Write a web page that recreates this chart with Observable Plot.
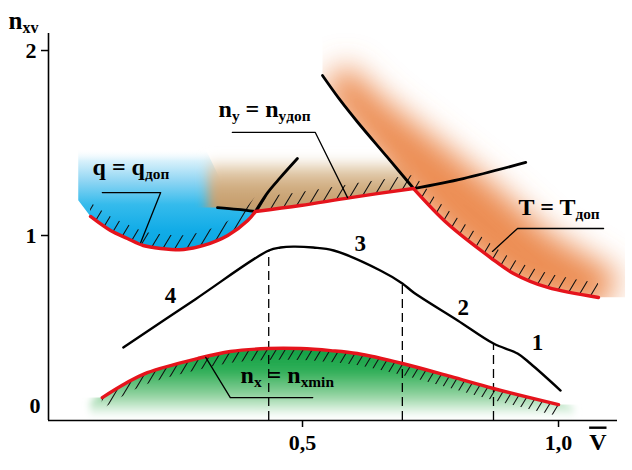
<!DOCTYPE html>
<html><head><meta charset="utf-8">
<script src="https://cdn.jsdelivr.net/npm/d3@7"></script>
<script src="https://cdn.jsdelivr.net/npm/@observablehq/plot@0.6"></script>
<style>body{margin:0;background:#fff}#dbg{position:absolute;left:60px;top:40px;font:11px monospace;color:#c00;white-space:pre}</style>
</head><body><div id="chart"></div><div id="dbg"></div>
<script>
window.onerror = (m, s, l) => { document.getElementById("dbg").textContent += "ERR " + m + " @" + l + "\n"; };
// ---------- data (x = V̄, y = n) ----------
const xDomain = [0.0039, 1.1152];
const yDomain = [0, 2.092];
const xTicks = [0.5, 1.0];
const yTicks = [1, 2];

// main black curve (segments 4-3-2-1)
const mainCurve = [[0.150,0.395],[0.291,0.656],[0.434,0.919],[0.457,0.935],[0.482,0.940],[0.521,0.935],[0.561,0.919],[0.652,0.811],[0.695,0.741],[0.717,0.692],[0.803,0.541],[0.873,0.416],[0.920,0.362],[0.945,0.308],[1.004,0.162]];
const segNames = ["4", "3", "2", "1"];
const segX = [0.242, 0.613, 0.814, 0.959];
const segY = [0.676, 0.957, 0.611, 0.422];
const dashX = [0.434, 0.695, 0.873];
const dashTop = [0.919, 0.741, 0.416];

// n_x = n_xmin boundary
const nxRed = [[0.109,0.124],[0.154,0.200],[0.197,0.259],[0.295,0.335],[0.359,0.373],[0.432,0.389],[0.496,0.389],[0.555,0.378],[0.607,0.362],[0.695,0.308],[0.789,0.238],[0.873,0.173],[1.000,0.086]];
// q = q_доп boundary and its continuation
const qRed = [[0.086,1.103],[0.125,1.027],[0.158,0.984],[0.189,0.946],[0.223,0.930],[0.268,0.924],[0.307,0.946],[0.354,1.000],[0.393,1.081],[0.408,1.130]];
const qBlack = [[0.408,1.130],[0.432,1.232],[0.457,1.314],[0.490,1.416]];
// n_y = n_yдоп boundary
const nyLeft = [[0.334,1.151],[0.373,1.141],[0.408,1.130]];
const nyRed = [[0.408,1.130],[0.496,1.162],[0.594,1.205],[0.717,1.254]];
const nyRight = [[0.717,1.254],[0.814,1.308],[0.936,1.395]];
// T = T_доп boundary
const tBlack = [[0.539,1.865],[0.574,1.730],[0.607,1.615],[0.666,1.422],[0.717,1.254]];
const tRed = [[0.717,1.254],[0.783,1.065],[0.867,0.881],[0.912,0.795],[0.979,0.719],[1.078,0.665]];

// shaded regions (estimated extents)
const blueEdgeL = [[0.062,1.47],[0.062,1.19]];
const blueEdgeR = [[0.42,1.16],[0.34,1.30],[0.31,1.47]];
const tanRegion = [[0.315,1.10],[0.50,1.10],[0.60,1.15],[0.73,1.21],[0.70,1.42],[0.315,1.42]];
const orangeOuter = [[1.121,0.784],[1.063,0.881],[0.980,1.016],[0.887,1.243],[0.789,1.459],[0.662,1.730],[0.584,1.930]];
const greenEnds = [[0.085,0.10],[1.03,0.07],[1.03,0.025],[0.085,0.025]];
const nyExtLeft = [[0.2,1.151],[0.334,1.151]];
const tExtRight = [[1.078,0.665],[1.13,0.665]];
const nxExtLeft = [[0.03,0.124],[0.109,0.124]];
const nxExtRight = [[1.0,0.086],[1.09,0.086]];

// leader lines
const leadQ = [[0.109,1.232],[0.223,1.232],[0.184,0.962]];
const leadNy = [[0.363,1.557],[0.525,1.557],[0.588,1.205]];
const leadT = [[1.088,1.038],[0.920,1.038],[0.871,0.914]];
const leadNx = [[0.520,0.124],[0.359,0.124],[0.311,0.341]];

// region labels ({...} = subscript)
const labText = ["q = q{доп}", "n{y} = n{yдоп}", "T = T{доп}", "n{x} = n{xmin}"];
const labX = [0.090, 0.336, 0.922, 0.379];
const labY = [1.368, 1.681, 1.151, 0.243];

// ---------- derived shapes ----------
const X = d => d[0], Y = d => d[1];
const tCurve = tBlack.concat(tRed.slice(1));
const bluePoly = blueEdgeL.concat(qRed, blueEdgeR);
const orangePoly = tCurve.map(([x, y]) => [x, y - 0.07]).concat(orangeOuter);
const greenPoly = [greenEnds[0]].concat(nxRed.map(([x, y]) => [x, y + 0.03]), greenEnds.slice(1));

const RED = "#e5141c";
const poly = (data, tag, fill) => Plot.line(data, {x: X, y: Y, curve: "linear-closed", stroke: "none", fill, ariaDescription: tag});
const above = (data, tag, curve = "catmull-rom") => Plot.areaY(data, {x: X, y1: Y, y2: 2.4, curve, fill: "black", ariaDescription: tag});
const below = (data, tag, curve = "catmull-rom") => Plot.areaY(data, {x: X, y1: -0.05, y2: Y, curve, fill: "black", ariaDescription: tag});
const hatchBand = (data, depth, tag) => Plot.areaY(data, {x: X, y1: Y, y2: d => d[1] + depth, curve: "catmull-rom", fill: "black", ariaDescription: tag});
const curveLine = (data, stroke, w) => Plot.line(data, {x: X, y: Y, curve: "catmull-rom", stroke, strokeWidth: w});

const plot = Plot.plot({
  width: 632, height: 470,
  marginLeft: 48, marginRight: 15, marginTop: 33, marginBottom: 50,
  x: {domain: xDomain},
  y: {domain: yDomain},
  style: "font-family: 'Liberation Serif', 'DejaVu Serif', serif; font-weight: bold; color: black; background: white;",
  marks: [
    // fills
    poly(bluePoly, "fill-blue", "black"),
    poly(tanRegion, "fill-tan", "black"),
    poly(orangePoly, "fill-orange", "#ec8d52"),
    poly(greenPoly, "fill-green", "black"),
    // clip shapes (moved into defs)
    above(tBlack, "clip-orange"), above(tRed, "clip-orange"), above(tExtRight, "clip-orange", "linear"),
    above(nyExtLeft, "clip-tan", "linear"), above(nyLeft, "clip-tan"), above(nyRed, "clip-tan"),
    below(nxRed, "clip-green"), below(nxExtLeft, "clip-green", "linear"), below(nxExtRight, "clip-green", "linear"),
    // hatching
    hatchBand(nxRed, -0.065, "hatch-g"),
    hatchBand(qRed, 0.075, "hatch"),
    hatchBand(nyRed, 0.07, "hatch"),
    hatchBand(tRed, 0.075, "hatch"),
    // dashed verticals
    Plot.ruleX(dashX, {x: d => d, y1: 0, y2: (d, i) => dashTop[i], stroke: "black", strokeWidth: 1.3, strokeDasharray: "9,5"}),
    // curves
    curveLine(mainCurve, "black", 2.4),
    curveLine(qBlack, "black", 2.8),
    curveLine(nyLeft, "black", 2.8),
    curveLine(nyRight, "black", 2.8),
    curveLine(tBlack, "black", 2.8),
    curveLine(nxRed, RED, 3.4),
    curveLine(qRed, RED, 3.4),
    curveLine(nyRed, RED, 3.4),
    curveLine(tRed, RED, 3.4),
    // leaders
    ...[leadQ, leadNy, leadT, leadNx].map(L => Plot.line(L, {x: X, y: Y, stroke: "black", strokeWidth: 1.3})),
    // labels
    Plot.text(labText, {x: (d, i) => labX[i], y: (d, i) => labY[i], text: d => d, textAnchor: "start", fontSize: 24, ariaDescription: "sublabel"}),
    Plot.text(segNames, {x: (d, i) => segX[i], y: (d, i) => segY[i], text: d => d, fontSize: 23}),
    Plot.text(["n{xv}"], {frameAnchor: "top-left", dx: -40, dy: -22, textAnchor: "start", fontSize: 25, ariaDescription: "sublabel"}),
    Plot.text(["V"], {frameAnchor: "bottom-right", dx: -11, dy: 29, fontSize: 24, ariaDescription: "vlabel"}),
    // axes
    Plot.ruleY([0], {stroke: "black", strokeWidth: 1.6}),
    Plot.ruleX([xDomain[0]], {stroke: "black", strokeWidth: 1.6}),
    Plot.axisX({ticks: xTicks, tickFormat: d => d.toFixed(1).replace(".", ","), tickSize: 7, tickPadding: 7, label: null, fontSize: 22, strokeWidth: 1.5}),
    Plot.axisY({ticks: yTicks, tickFormat: d => String(d), tickSize: 7, tickPadding: 5, label: null, fontSize: 22, strokeWidth: 1.5}),
    Plot.axisY({ticks: [0], tickFormat: d => String(d), tickSize: 0, tickPadding: 8, dy: -15, label: null, fontSize: 22})
  ]
});

document.getElementById("chart").appendChild(plot);

// ---------- decoration: gradients, blur, clip, hatch, subscripts ----------
const root = d3.select(plot);
const defs = root.insert("defs", ":first-child");
const ys = v => plot.scale("y").apply(v);

function grad(id, y0, y1, stops) {
  const g = defs.append("linearGradient").attr("id", id).attr("gradientUnits", "userSpaceOnUse")
    .attr("x1", 0).attr("x2", 0).attr("y1", ys(y0)).attr("y2", ys(y1));
  stops.forEach(([o, c, a]) => g.append("stop").attr("offset", o).attr("stop-color", c).attr("stop-opacity", a ?? 1));
}
grad("gBlue", 1.47, 0.92, [[0, "#ffffff", 0], [0.12, "#d8f1fb"], [0.32, "#8fd5f3"], [0.55, "#35bbec"], [0.8, "#12ace7"], [1, "#08a6e3"]]);
grad("gTan", 1.45, 1.13, [[0, "#ffffff", 0], [0.3, "#e4ceb0"], [0.6, "#cfab7e"], [1, "#c39a68"]]);
grad("gGreen", 0.40, 0.02, [[0, "#0e9f42"], [0.35, "#2fae57"], [0.7, "#92d3a0"], [1, "#ffffff"]]);

function blur(id, sd) {
  defs.append("filter").attr("id", id).attr("filterUnits", "userSpaceOnUse")
    .attr("x", -50).attr("y", -50).attr("width", 750).attr("height", 600)
    .append("feGaussianBlur").attr("stdDeviation", sd);
}
blur("blurO", 15); blur("blurT", 6); blur("blurG", 3.5);

function hatch(id, w, h) {
  defs.append("pattern").attr("id", id).attr("patternUnits", "userSpaceOnUse").attr("width", w).attr("height", h)
    .append("path").attr("d", `M${-w},${2*h}L${2*w},${-h}M${-w},${h}L${w},${-h}M0,${2*h}L${2*w},0`)
    .attr("stroke", "#111").attr("stroke-width", 1.1).attr("fill", "none");
}
hatch("hatchA", 12, 20); hatch("hatchG", 9, 15);

const sel = t => root.selectAll(`g[aria-description="${t}"]`);
function makeClip(id) {
  const cp = defs.append("clipPath").attr("id", id);
  sel(id).each(function() {
    d3.select(this).selectAll("path").each(function() { cp.append("path").attr("d", this.getAttribute("d")); });
  }).remove();
}
makeClip("clip-orange"); makeClip("clip-tan"); makeClip("clip-green");

sel("fill-blue").attr("fill", "url(#gBlue)");
sel("fill-tan").attr("fill", "url(#gTan)").attr("filter", "url(#blurT)").attr("clip-path", "url(#clip-tan)");
sel("fill-orange").attr("filter", "url(#blurO)").attr("clip-path", "url(#clip-orange)");
sel("fill-green").attr("fill", "url(#gGreen)").attr("filter", "url(#blurG)").attr("clip-path", "url(#clip-green)");
sel("hatch").attr("fill", "url(#hatchA)");
sel("hatch-g").attr("fill", "url(#hatchG)");

sel("sublabel").selectAll("text").each(function() {
  const el = d3.select(this);
  const parts = this.textContent.split(/(\{[^}]*\})/).filter(p => p);
  el.text(null);
  let down = false;
  parts.forEach(p => {
    const sub = p.startsWith("{");
    const t = el.append("tspan").text(sub ? p.slice(1, -1) : p);
    if (sub) { t.attr("font-size", "0.64em"); if (!down) { t.attr("dy", 4); down = true; } }
    else if (down) { t.attr("dy", -4); down = false; }
  });
});
sel("vlabel").selectAll("text").style("text-decoration", "overline");
</script>
</body></html>
